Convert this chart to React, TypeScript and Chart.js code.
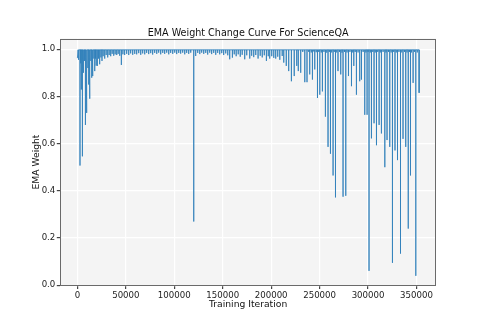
import { useEffect, useRef } from "react";
import { Chart, registerables } from "chart.js";

Chart.register(...registerables);

// Training iterations where the EMA weight dips
const iterations = [
  700, 1500, 2700, 3400, 4100, 5200, 5900, 6500, 7300, 8300,
  9100, 9900, 10800, 11700, 12400, 13000, 13900, 14800, 15400, 16100,
  17000, 17900, 18700, 19400, 20600, 21800, 23000, 24300, 25400, 26600,
  28200, 29700, 31300, 32800, 34400, 35900, 37500, 39000, 40600, 42100,
  43700, 45400, 47000, 48800, 50900, 53000, 55000, 57100, 59200, 61200,
  63300, 65400, 67400, 69500, 71500, 73600, 75700, 77700, 79800, 81900,
  83900, 86000, 88100, 90100, 92200, 94300, 96300, 98400, 100500, 102500,
  104600, 106600, 108700, 110800, 112800, 114900, 117000, 120100, 122100, 124200,
  126300, 128300, 130400, 132500, 134500, 136600, 138600, 140700, 142800, 144800,
  146900, 149000, 151000, 153100, 155200, 157200, 160000, 161900, 163900, 166000,
  168100, 170100, 172700, 174800, 177900, 179900, 182000, 184100, 186500, 188700,
  190800, 192900, 195100, 197000, 198500, 200600, 202700, 204700, 206800, 208900,
  211400, 213000, 215600, 218100, 220900, 223800, 226400, 228000, 230500, 232600,
  234700, 237000, 238800, 239800, 241400, 242600, 244000, 245000, 246500, 247800,
  249100, 250200, 251700, 252900, 254500, 256000, 257400, 258700, 260000, 261200,
  262500, 263900, 265100, 266400, 267700, 269000, 270500, 271800, 273100, 274200,
  275700, 277000, 278300, 279800, 281300, 282900, 284200, 285300, 286700, 288000,
  289700, 291400, 293200, 294900, 296600, 297800, 299000, 300000, 301000, 302300,
  303500, 304900, 306200, 307400, 308700, 310000, 311400, 312600, 313800, 315500,
  317300, 318500, 319600, 321100, 322400, 323800, 325200, 326500, 327800, 329100,
  330400, 331900, 333500, 334800, 336100, 337600, 338900, 340200, 341500, 342700,
  343800, 344900, 346500, 347800, 349300, 350800,
];

// EMA weight at the bottom of each dip
const weights = [
  0.97, 0.955, 0.507, 0.94, 0.829, 0.546, 0.92, 0.9, 0.95, 0.679,
  0.93, 0.73, 0.92, 0.85, 0.94, 0.79, 0.95, 0.879, 0.95, 0.886,
  0.96, 0.907, 0.96, 0.93, 0.929, 0.96, 0.936, 0.965, 0.95, 0.97,
  0.96, 0.975, 0.965, 0.975, 0.97, 0.98, 0.972, 0.978, 0.975, 0.98,
  0.972, 0.933, 0.978, 0.975, 0.98, 0.975, 0.982, 0.976, 0.98, 0.978,
  0.983, 0.976, 0.982, 0.978, 0.984, 0.979, 0.983, 0.977, 0.984, 0.98,
  0.985, 0.978, 0.984, 0.98, 0.985, 0.978, 0.984, 0.98, 0.985, 0.979,
  0.984, 0.981, 0.985, 0.978, 0.984, 0.98, 0.985, 0.27, 0.971, 0.984,
  0.979, 0.985, 0.98, 0.984, 0.977, 0.985, 0.979, 0.984, 0.976, 0.984,
  0.978, 0.983, 0.975, 0.982, 0.974, 0.957, 0.964, 0.978, 0.97, 0.978,
  0.968, 0.976, 0.957, 0.974, 0.96, 0.972, 0.966, 0.975, 0.96, 0.972,
  0.965, 0.974, 0.95, 0.97, 0.96, 0.97, 0.963, 0.96, 0.968, 0.955,
  0.971, 0.943, 0.929, 0.907, 0.864, 0.886, 0.929, 0.907, 0.9, 0.988,
  0.86, 0.86, 0.988, 0.893, 0.986, 0.871, 0.99, 0.914, 0.987, 0.793,
  0.988, 0.807, 0.986, 0.821, 0.988, 0.714, 0.985, 0.586, 0.988, 0.557,
  0.986, 0.465, 0.988, 0.372, 0.986, 0.907, 0.988, 0.893, 0.985, 0.375,
  0.988, 0.379, 0.986, 0.886, 0.988, 0.843, 0.986, 0.929, 0.988, 0.807,
  0.986, 0.864, 0.871, 0.988, 0.722, 0.986, 0.722, 0.988, 0.061, 0.986,
  0.622, 0.988, 0.686, 0.986, 0.593, 0.988, 0.679, 0.986, 0.643, 0.988,
  0.5, 0.986, 0.615, 0.988, 0.586, 0.986, 0.095, 0.988, 0.571, 0.986,
  0.53, 0.988, 0.134, 0.986, 0.62, 0.988, 0.586, 0.986, 0.24, 0.988,
  0.465, 0.986, 0.857, 0.988, 0.04, 0.986,
];

const startIteration = 0;
const startWeight = 0.962;
const plateauWeight = 0.997;
const endIteration = 352700;
const endWeight = 0.815;

const xTicks = [0, 50000, 100000, 150000, 200000, 250000, 300000, 350000];
const yTicks = [0, 0.2, 0.4, 0.6, 0.8, 1.0];

const titleText = "EMA Weight Change Curve For ScienceQA";
const xLabel = "Training Iteration";
const yLabel = "EMA Weight";

const FONT = "'DejaVu Sans', sans-serif";

export default function App() {
  const ref = useRef<HTMLCanvasElement | null>(null);

  useEffect(() => {
    if (!ref.current) return;
    const points: { x: number; y: number }[] = [{ x: startIteration, y: startWeight }];
    iterations.forEach((it, i) => {
      points.push({ x: it, y: plateauWeight });
      points.push({ x: it, y: weights[i] });
      points.push({ x: it, y: plateauWeight });
    });
    points.push({ x: endIteration, y: plateauWeight });
    points.push({ x: endIteration, y: endWeight });

    const decor = {
      id: "decor",
      beforeDraw(chart: any) {
        const { ctx, chartArea: a } = chart;
        ctx.save();
        ctx.fillStyle = "#f4f4f4";
        ctx.fillRect(a.left, a.top, a.right - a.left, a.bottom - a.top);
        ctx.restore();
      },
      afterDraw(chart: any) {
        const { ctx, chartArea: a } = chart;
        ctx.save();
        ctx.strokeStyle = "#6a6a6a";
        ctx.lineWidth = 1;
        const l = Math.round(a.left) + 0.5;
        const t = Math.round(a.top) + 0.5;
        const r = Math.round(a.right) - 0.5;
        const b = Math.round(a.bottom) - 0.5;
        ctx.strokeRect(l, t, r - l, b - t);
        ctx.fillStyle = "#111";
        ctx.textAlign = "center";
        ctx.textBaseline = "middle";
        const cx = (a.left + a.right) / 2;
        ctx.font = `9.6px ${FONT}`;
        ctx.fillText(titleText, cx, 33.3);
        ctx.font = `9.2px ${FONT}`;
        ctx.fillText(xLabel, cx, 304.3);
        ctx.translate(36.7, (a.top + a.bottom) / 2);
        ctx.rotate(-Math.PI / 2);
        ctx.fillText(yLabel, 0, 0);
        ctx.restore();
      },
    };

    const tickFont = { family: FONT, size: 8.6 };

    const chart = new Chart(ref.current, {
      type: "line",
      data: {
        datasets: [
          {
            data: points,
            borderColor: "#2f7fba",
            borderWidth: 0.85,
            pointRadius: 0,
            tension: 0,
            fill: false,
          },
        ],
      },
      options: {
        responsive: false,
        maintainAspectRatio: false,
        animation: false,
        layout: { padding: { left: 0, right: 49, top: 38.5, bottom: 0 } },
        plugins: {
          legend: { display: false },
          tooltip: { enabled: false },
          title: { display: false },
        },
        scales: {
          x: {
            type: "linear",
            min: -17630,
            max: 370130,
            afterBuildTicks: (s: any) => {
              s.ticks = xTicks.map((v) => ({ value: v }));
            },
            afterFit: (s: any) => {
              s.height = 37.5;
            },
            grid: { color: "#ffffff", lineWidth: 1.2, tickColor: "#444", tickLength: 3.5 },
            border: { display: false },
            ticks: {
              font: tickFont,
              color: "#222",
              padding: 1.5,
              maxRotation: 0,
              autoSkip: false,
              callback: (v: any) => String(v),
            },
          },
          y: {
            type: "linear",
            min: -0.001,
            max: 1.045,
            afterBuildTicks: (s: any) => {
              s.ticks = yTicks.map((v) => ({ value: v }));
            },
            afterFit: (s: any) => {
              s.width = 60.3;
            },
            grid: { color: "#ffffff", lineWidth: 1.2, tickColor: "#444", tickLength: 3.5 },
            border: { display: false },
            ticks: {
              font: tickFont,
              color: "#222",
              padding: 1.5,
              autoSkip: false,
              callback: (v: any) => Number(v).toFixed(1),
            },
          },
        },
      },
      plugins: [decor],
    });
    return () => chart.destroy();
  }, []);

  return (
    <div style={{ position: "fixed", left: 0, top: 0, width: 485, height: 323, background: "#fff" }}>
      <canvas ref={ref} width={485} height={323} style={{ width: 485, height: 323 }} />
    </div>
  );
}
